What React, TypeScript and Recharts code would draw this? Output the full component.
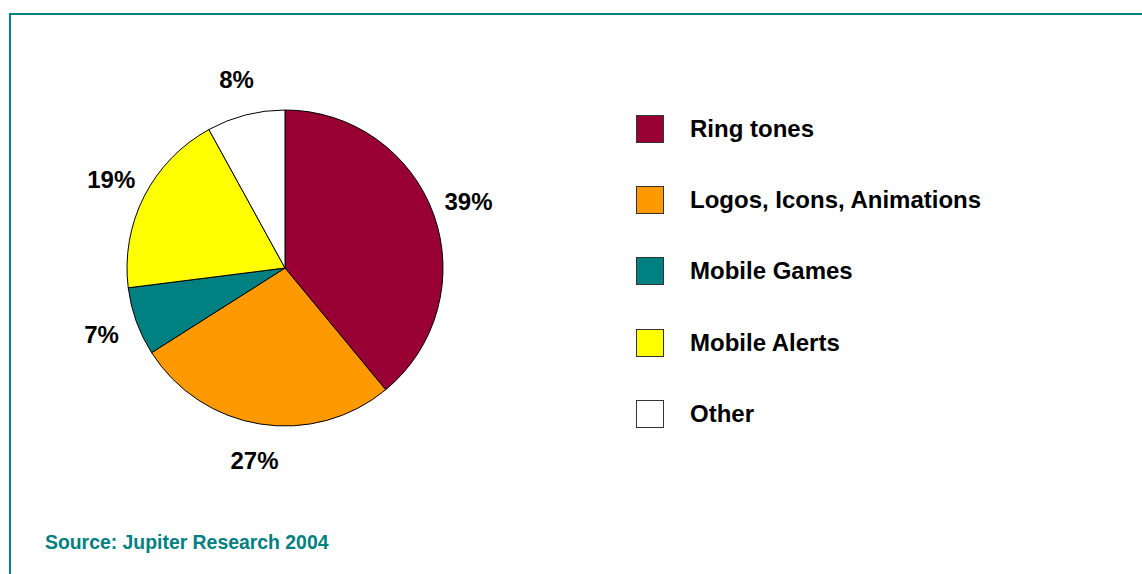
import React from 'react';
import { PieChart, Pie, Cell } from 'recharts';

const categories = ['Ring tones', 'Logos, Icons, Animations', 'Mobile Games', 'Mobile Alerts', 'Other'];
const shares = [39, 27, 7, 19, 8];
const colors = ['#990033', '#FF9900', '#008080', '#FFFF00', '#FFFFFF'];

const data = categories.map((name, i) => ({ name, value: shares[i] }));

const FONT = '"Liberation Sans", Arial, Helvetica, sans-serif';
const TEAL = '#008080';
const RADIAN = Math.PI / 180;

const renderLabel = ({ cx, cy, midAngle, value }: any) => {
  const r = 195;
  const x = cx + r * Math.cos(-midAngle * RADIAN);
  const y = cy + r * Math.sin(-midAngle * RADIAN);
  return (
    <text
      x={x}
      y={y}
      textAnchor="middle"
      dominantBaseline="central"
      fill="#000"
      fontFamily={FONT}
      fontWeight="bold"
      fontSize={24}
    >
      {`${value}%`}
    </text>
  );
};

// legend is kept in source order, one row per category
const LegendList = () => (
  <div style={{ position: 'absolute', left: 636, top: 93 }}>
    {categories.map((name, i) => (
      <div key={`legend-${i}`} style={{ display: 'flex', alignItems: 'center', height: 71.3 }}>
        <div
          style={{
            width: 26,
            height: 26,
            background: colors[i],
            border: '1px solid #333',
            marginRight: 26,
          }}
        />
        <span style={{ fontFamily: FONT, fontWeight: 'bold', fontSize: 24, color: '#000' }}>{name}</span>
      </div>
    ))}
  </div>
);

export default function App() {
  return (
    <div style={{ position: 'absolute', left: 0, top: 0, width: 1142, height: 574, background: '#fff' }}>
      <div
        style={{
          position: 'absolute',
          left: 9,
          top: 13,
          right: 0,
          bottom: 0,
          borderTop: `2px solid ${TEAL}`,
          borderLeft: `2px solid ${TEAL}`,
        }}
      />
      <PieChart
        width={1142}
        height={574}
        margin={{ top: 0, right: 0, bottom: 0, left: 0 }}
        style={{ position: 'absolute', left: 0, top: 0 }}
      >
        <Pie
          data={data}
          dataKey="value"
          nameKey="name"
          cx={285}
          cy={268}
          outerRadius={158}
          startAngle={90}
          endAngle={-270}
          stroke="#000"
          strokeWidth={1}
          label={renderLabel}
          labelLine={false}
          isAnimationActive={false}
        >
          {data.map((entry, index) => (
            <Cell key={`cell-${index}`} fill={colors[index]} />
          ))}
        </Pie>
      </PieChart>
      <LegendList />
      <div
        style={{
          position: 'absolute',
          left: 45,
          top: 531,
          fontFamily: FONT,
          fontWeight: 'bold',
          fontSize: 19.4,
          color: TEAL,
        }}
      >
        Source: Jupiter Research 2004
      </div>
    </div>
  );
}
